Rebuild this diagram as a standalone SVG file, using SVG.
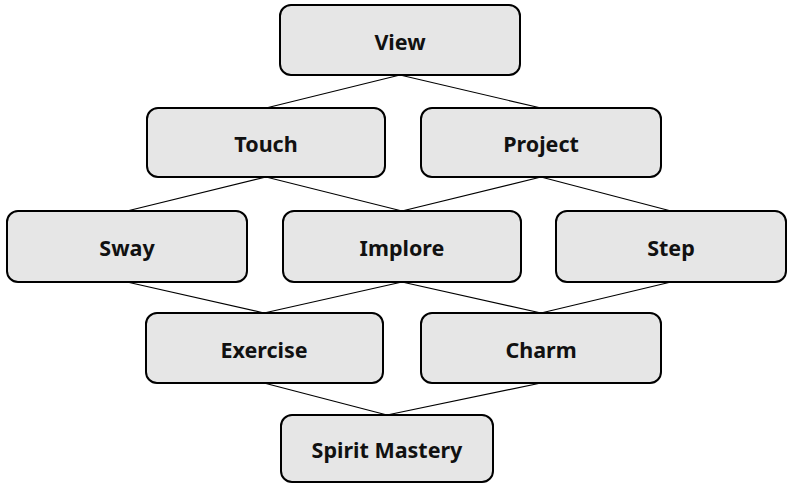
<svg xmlns="http://www.w3.org/2000/svg" width="792" height="485" viewBox="0 0 792 485">
  <style>
    .box { fill: #e6e6e6; stroke: #000; stroke-width: 2; }
    .lbl { font-family: "Noto Sans", "Open Sans", sans-serif; font-weight: 700; font-size: 21.5px; fill: #111; text-anchor: middle; dominant-baseline: central; }
    .link { stroke: #000; stroke-width: 1.2; fill: none; }
  </style>
  <rect width="792" height="485" fill="#fff"/>
  <g id="connectors">
    <line class="link" x1="400" y1="75" x2="266" y2="108"/>
    <line class="link" x1="400" y1="75" x2="541" y2="108"/>
    <line class="link" x1="266" y1="177" x2="127" y2="211"/>
    <line class="link" x1="266" y1="177" x2="402" y2="211"/>
    <line class="link" x1="541" y1="177" x2="402" y2="211"/>
    <line class="link" x1="541" y1="177" x2="671" y2="211"/>
    <line class="link" x1="127" y1="282" x2="264" y2="313"/>
    <line class="link" x1="402" y1="282" x2="264" y2="313"/>
    <line class="link" x1="402" y1="282" x2="541" y2="313"/>
    <line class="link" x1="671" y1="282" x2="541" y2="313"/>
    <line class="link" x1="264" y1="383" x2="387" y2="415"/>
    <line class="link" x1="541" y1="383" x2="387" y2="415"/>
  </g>
  <g id="view">
    <rect class="box" x="280" y="5" width="240" height="70" rx="11"/>
    <text class="lbl" x="400" y="41">View</text>
  </g>
  <g id="touch">
    <rect class="box" x="147" y="108" width="238" height="69" rx="11"/>
    <text class="lbl" x="266" y="143">Touch</text>
  </g>
  <g id="project">
    <rect class="box" x="421" y="108" width="240" height="69" rx="11"/>
    <text class="lbl" x="541" y="143">Project</text>
  </g>
  <g id="sway">
    <rect class="box" x="7" y="211" width="240" height="71" rx="11"/>
    <text class="lbl" x="127" y="247">Sway</text>
  </g>
  <g id="implore">
    <rect class="box" x="283" y="211" width="238" height="71" rx="11"/>
    <text class="lbl" x="402" y="247">Implore</text>
  </g>
  <g id="step">
    <rect class="box" x="556" y="211" width="230" height="71" rx="11"/>
    <text class="lbl" x="671" y="247">Step</text>
  </g>
  <g id="exercise">
    <rect class="box" x="146" y="313" width="237" height="70" rx="11"/>
    <text class="lbl" x="264" y="349">Exercise</text>
  </g>
  <g id="charm">
    <rect class="box" x="421" y="313" width="240" height="70" rx="11"/>
    <text class="lbl" x="541" y="349">Charm</text>
  </g>
  <g id="spirit-mastery">
    <rect class="box" x="281" y="415" width="212" height="67" rx="11"/>
    <text class="lbl" x="387" y="449">Spirit Mastery</text>
  </g>
</svg>
